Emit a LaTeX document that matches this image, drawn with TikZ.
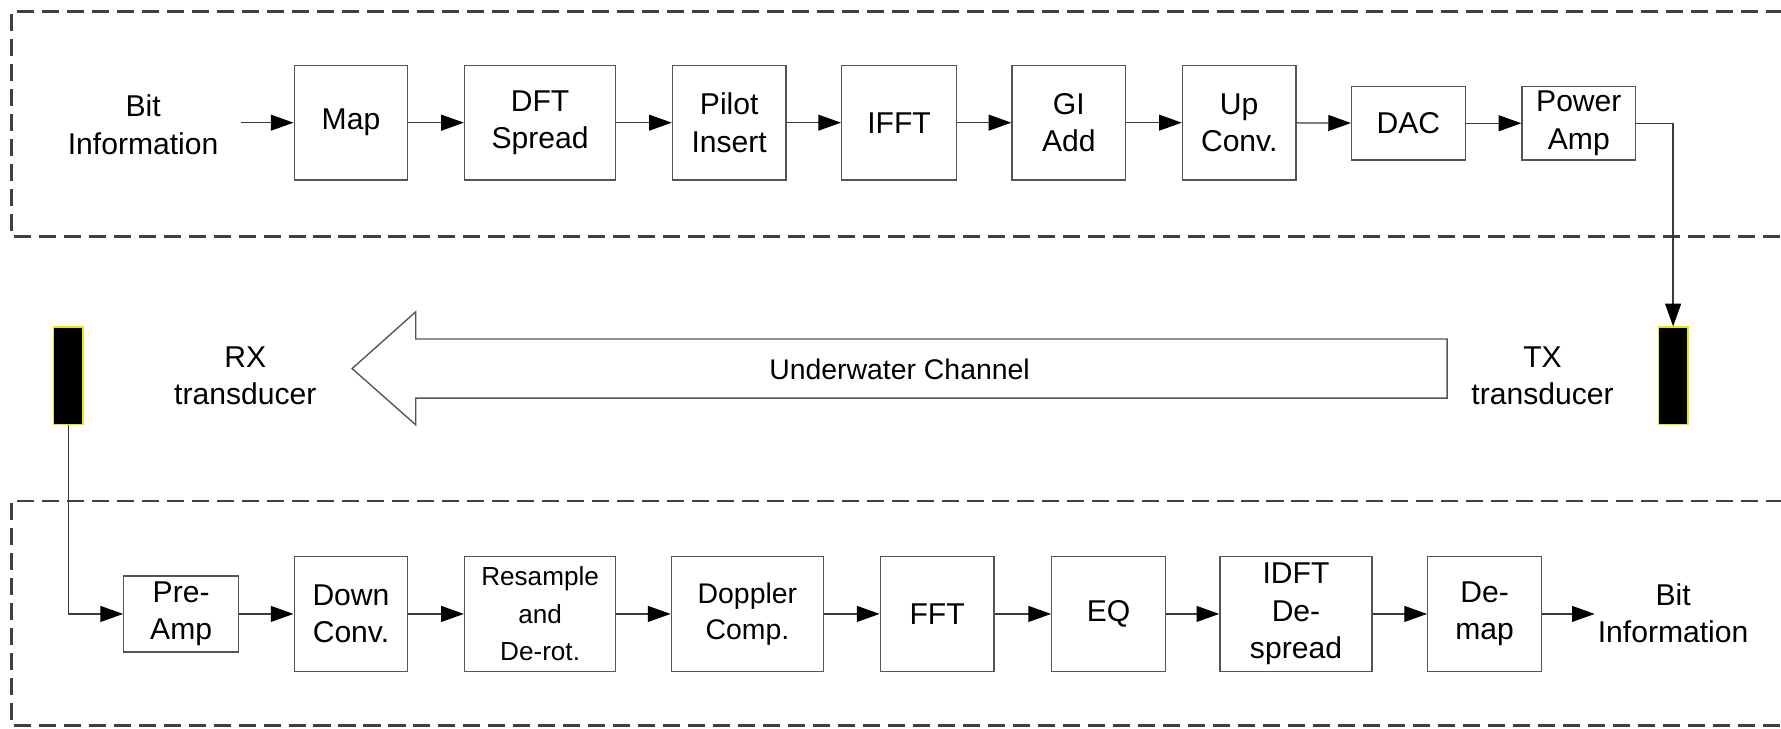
\documentclass[tikz,border=0pt]{standalone}
\usepackage{fontspec}
\setmainfont{Liberation Sans}
\usetikzlibrary{arrows.meta}
\definecolor{edgegray}{HTML}{555555}
\definecolor{linegray}{HTML}{3A3A3A}
\definecolor{framegray}{HTML}{404040}
\definecolor{xdcryellow}{HTML}{E8E800}
\tikzset{
  blk/.style={draw=edgegray, line width=1.2pt, rectangle, align=center,
    inner sep=0pt, minimum width=100pt, minimum height=101pt,
    font=\fontsize{26.5}{33}\selectfont},
  lbl/.style={align=center, inner sep=0pt, font=\fontsize{26.5}{33}\selectfont},
  conn/.style={draw=linegray, line width=1.1pt,
    -{Triangle[length=20pt,width=14pt,color=black]}},
  frame/.style={draw=framegray, line width=2.4pt, dash pattern=on 15pt off 7pt},
  xdcr/.style={draw=xdcryellow, fill=black, line width=1.2pt, rectangle,
    minimum width=26pt, minimum height=86pt, inner sep=0pt},
}
\begin{document}
\begin{tikzpicture}[x=1pt,y=-1pt]
\useasboundingbox (0,0) rectangle (1568,641);

% transmitter and receiver frames (open to the right)
\draw[frame] (1570,10) -- (10,10) -- (10,208) -- (1570,208);
\draw[frame] (1570,441) -- (10,441) -- (10,639) -- (1570,639);

% transmitter chain
\node[lbl] (bitin) at (126,110) {Bit\\Information};
\coordinate (inS) at (212,108);
\node[blk] (map)   at (309,108)   {Map};
\node[blk, minimum width=133pt] (dft) at (475.5,108) {DFT\\Spread};
\node[blk] (pilot) at (642,108)   {Pilot\\Insert};
\node[blk, minimum width=101pt] (ifft) at (791.5,108) {IFFT};
\node[blk] (gi)    at (941,108)   {GI\\Add};
\node[blk] (up)    at (1091,108)  {Up\\Conv.};
\node[blk, minimum height=65pt] (dac)   at (1240,108.5) {DAC};
\node[blk, minimum height=65pt] (power) at (1390,108.5) {Power\\Amp};

\draw[conn] (inS) -- (map);
\draw[conn] (map) -- (dft);
\draw[conn] (dft) -- (pilot);
\draw[conn] (pilot) -- (ifft);
\draw[conn] (ifft) -- (gi);
\draw[conn] (gi) -- (up);
\draw[conn] (up) -- (dac);
\draw[conn] (dac) -- (power);

% transducers and channel
\node[xdcr] (tx) at (1473,331) {};
\node[xdcr] (rx) at (60,331) {};
\node[lbl] (txl) at (1358,331) {TX\\transducer};
\node[lbl] (rxl) at (216,331) {RX\\transducer};
\draw[conn] (power.east) -| (tx.north);

\draw[draw=edgegray, line width=1.2pt, fill=white]
  (1274,298.5) -- (366,298.5) -- (366,274.5) -- (310,324.5)
  -- (366,374) -- (366,350.5) -- (1274,350.5) -- cycle;
\node[inner sep=0pt, font=\fontsize{25}{28}\selectfont] (chan) at (792,325) {Underwater Channel};

% receiver chain
\node[blk, minimum width=101pt, minimum height=67pt] (pre) at (159.5,540.5) {Pre-\\Amp};
\node[blk] (down) at (309,540.5) {Down\\Conv.};
\node[blk, minimum width=133pt, font=\fontsize{23}{33}\selectfont] (resamp) at (475.5,540.5) {Resample\\and\\De-rot.};
\node[blk, minimum width=134pt, font=\fontsize{25}{32}\selectfont] (dopp) at (658,540.5) {Doppler\\Comp.};
\node[blk] (fft) at (825,540.5) {FFT};
\node[blk] (eq) at (976,540.5) {EQ};
\node[blk, minimum width=134pt] (idft) at (1141,540.5) {IDFT\\De-\\spread};
\node[blk] (demap) at (1307,540.5) {De-\\map};
\coordinate (outE) at (1404,540.5);
\node[lbl] (bitout) at (1473,540) {Bit\\Information};

\draw[conn] (rx.south) |- (pre.west);
\draw[conn] (pre) -- (down);
\draw[conn] (down) -- (resamp);
\draw[conn] (resamp) -- (dopp);
\draw[conn] (dopp) -- (fft);
\draw[conn] (fft) -- (eq);
\draw[conn] (eq) -- (idft);
\draw[conn] (idft) -- (demap);
\draw[conn] (demap) -- (outE);
\end{tikzpicture}
\end{document}
